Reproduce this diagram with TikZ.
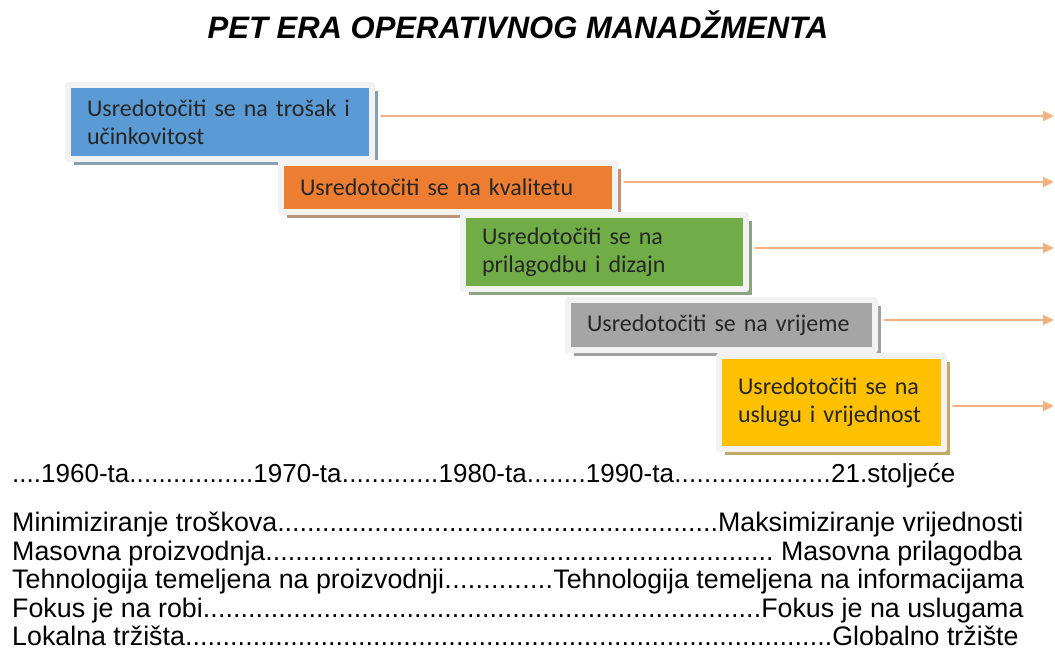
\documentclass[tikz,border=0pt]{standalone}
\usepackage{fontspec}
\setmainfont{Liberation Sans}
\newfontfamily\boxfont{Carlito}
\usetikzlibrary{arrows.meta,shadows}
\definecolor{plava}{HTML}{5B9BD5}
\definecolor{narancasta}{HTML}{ED7D31}
\definecolor{zelena}{HTML}{70AD47}
\definecolor{siva}{HTML}{A5A5A5}
\definecolor{zuta}{HTML}{FFC000}
\definecolor{okvir}{HTML}{F2F2F2}
\definecolor{strelicaboja}{HTML}{F4B183}
\newcommand{\tockice}{\xleaders\hbox{.}\hfill}
\begin{document}
\begin{tikzpicture}[x=1pt, y=-1pt, line join=round, line cap=round, >={Triangle[length=11pt,width=10pt]},
	era/.style={rectangle, fill=#1, draw=okvir, line width=6pt, inner xsep=19pt, inner ysep=0pt,
		align=left, text=black!85, font=\boxfont\fontsize{24}{28}\selectfont,
		drop shadow={shadow xshift=5.5pt, shadow yshift=-5.5pt, fill=#1!60!black, opacity=0.6}},
	strelica/.style={->, draw=strelicaboja, line width=2pt, shorten <=6pt},
	redak/.style={anchor=base west, inner sep=0pt, font=\fontsize{26.8}{28}\selectfont}]
	\useasboundingbox (0,0) rectangle (1055,651);
	\node[anchor=base, font=\bfseries\itshape\fontsize{31}{34}\selectfont] (naslov) at (518,38) {PET ERA OPERATIVNOG MANADŽMENTA};
	% pet era
	\node[era=plava, minimum width=304pt, minimum height=74pt, text width=266pt] (trosak) at (220,122) {Usredotočiti se na trošak i\\ učinkovitost};
	\node[era=narancasta, minimum width=334pt, minimum height=49pt, text width=296pt] (kvaliteta) at (448,187.5) {Usredotočiti se na kvalitetu};
	\node[era=zelena, minimum width=283pt, minimum height=74pt, text width=245pt] (dizajn) at (604.5,252) {Usredotočiti se na\\ prilagodbu i dizajn};
	\node[era=siva, minimum width=307pt, minimum height=50pt, text width=269pt] (vrijeme) at (721.5,325) {Usredotočiti se na vrijeme};
	\node[era=zuta, minimum width=225pt, minimum height=93pt, text width=187pt] (usluga) at (831.5,402.5) {Usredotočiti se na\\ uslugu i vrijednost};
	% strelice do desnog ruba
	\coordinate (k1) at (1054,116); \coordinate (k2) at (1054,182);
	\coordinate (k3) at (1054,248); \coordinate (k4) at (1054,320);
	\coordinate (k5) at (1054,406);
	\draw[strelica] (trosak.east |- k1) -- (k1);
	\draw[strelica] (kvaliteta.east |- k2) -- (k2);
	\draw[strelica] (dizajn.east |- k3) -- (k3);
	\draw[strelica] (vrijeme.east |- k4) -- (k4);
	\draw[strelica] (usluga.east |- k5) -- (k5);
	% vremenska crta
	\node[redak, font=\fontsize{26}{28}\selectfont] (godine) at (12,482) {\makebox[29pt]{\tockice}1960-ta\makebox[124pt]{\tockice}1970-ta\makebox[97pt]{\tockice}1980-ta\makebox[59pt]{\tockice}1990-ta\makebox[157pt]{\tockice}21.stoljeće};
	% usporedba
	\node[redak] (r1) at (12,531) {\makebox[1011pt]{Minimiziranje troškova\tockice Maksimiziranje vrijednosti}};
	\node[redak] (r2) at (12,560) {\makebox[1010pt]{Masovna proizvodnja\tockice\ Masovna prilagodba}};
	\node[redak] (r3) at (12,588) {\makebox[1012pt]{Tehnologija temeljena na proizvodnji\tockice Tehnologija temeljena na informacijama}};
	\node[redak] (r4) at (12,617) {\makebox[1011pt]{Fokus je na robi\tockice Fokus je na uslugama}};
	\node[redak] (r5) at (12,645) {\makebox[1006pt]{Lokalna tržišta\tockice Globalno tržište}};
\end{tikzpicture}
\end{document}
